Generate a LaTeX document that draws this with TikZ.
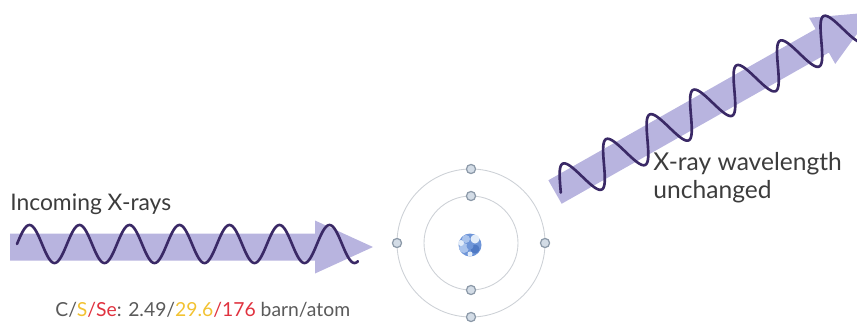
\documentclass[tikz,border=0pt]{standalone}
\usepackage{fontspec}
\setmainfont{Lato}
\usepackage{xcolor}
\usetikzlibrary{positioning}

\definecolor{beamcol}{HTML}{B8B4DF}
\definecolor{wavecol}{HTML}{3A2966}
\definecolor{orbitcol}{HTML}{CDD1D6}
\definecolor{txtgray}{HTML}{3C3C3C}
\definecolor{cgray}{HTML}{5A5A5A}
\definecolor{syellow}{HTML}{F2C232}
\definecolor{sered}{HTML}{E0323F}
\definecolor{elfill}{HTML}{D3DCE6}
\definecolor{eldraw}{HTML}{8C99A8}
\definecolor{nuclight}{HTML}{A9C3EC}
\definecolor{nucmid}{HTML}{6E95D8}
\definecolor{nucdark}{HTML}{4F79C4}
\definecolor{nucpale}{HTML}{E2ECF9}

\tikzset{
	beam/.style={fill=beamcol, draw=none},
	wave/.style={draw=wavecol, line width=1.5pt, line cap=round, line join=round},
	orbit/.style={draw=orbitcol, line width=0.5pt},
	electron/.style={circle, draw=eldraw, fill=elfill, line width=0.7pt, inner sep=0pt, minimum size=5.2pt},
	label/.style={text=txtgray, font=\fontsize{13}{15}\selectfont, inner sep=0pt}
}

\begin{document}
\begin{tikzpicture}[x=0.02cm, y=-0.02cm]
			\useasboundingbox (0,0) rectangle (857,325);
			\clip (0,0) rectangle (857,325);

			% incoming beam
			\fill[beam] (10,233.5) -- (315,233.5) -- (315,220.5) -- (373,247) -- (315,273.5) -- (315,260.5) -- (10,260.5) -- cycle;
			\draw[wave] plot[domain=17:358, samples=300] (\x, {244 - 19*sin(7.2*(\x-17))});

			% scattered beam
			\begin{scope}[shift={(555,192)}, rotate=29.5]
				\fill[beam] (0,-13.5) -- (307,-13.5) -- (307,-26.5) -- (365,0) -- (307,26.5) -- (307,13.5) -- (0,13.5) -- cycle;
			\end{scope}
			\begin{scope}[shift={(555,192)}, x={(0.0174cm,0.00984cm)}, y={(0.0084cm,-0.0181cm)}]
				\draw[wave] plot[domain=5:400, samples=340] (\x, {-21*sin(7.2*(\x-6.3))});
			\end{scope}

			% atom
			\coordinate (nucleus) at (471,243);
			\draw[orbit] (nucleus) circle (74);
			\draw[orbit] (nucleus) circle (47);
			\node[electron] (e1) at (471,169) {};
			\node[electron] (e2) at (471,317) {};
			\node[electron] (e3) at (397,243) {};
			\node[electron] (e4) at (545,243) {};
			\node[electron] (e5) at (471,196) {};
			\node[electron] (e6) at (471,290) {};
			\fill[nucmid] (470,245) circle (11.5);
			\fill[nuclight] (464,248) circle (5);
			\fill[nucpale] (475,239) circle (4.5);
			\fill[nucdark] (475,249) circle (4.5);
			\fill[nuclight] (466,239) circle (4);
			\fill[nucmid] (470,246) circle (3.5);
			\fill[nucpale] (461,243) circle (3);
			\fill[nucpale] (470,254) circle (2.5);

			% labels
			\node[label, anchor=base west] (incoming) at (10,210) {Incoming X-rays};
			\node[label, anchor=base west, align=left, font=\fontsize{14}{15.4}\selectfont] (unchanged) at (653,198) {X-ray wavelength\\unchanged};
			\node[label, anchor=base west, font=\fontsize{11}{13}\selectfont] (xsec) at (55,316) {\textcolor{cgray}{C/}\textcolor{syellow}{S}\textcolor{sered}{/Se}\textcolor{cgray}{: 2.49/}\textcolor{syellow}{29.6}\textcolor{sered}{/176} \textcolor{cgray}{barn/atom}};
        \end{tikzpicture}
\end{document}
